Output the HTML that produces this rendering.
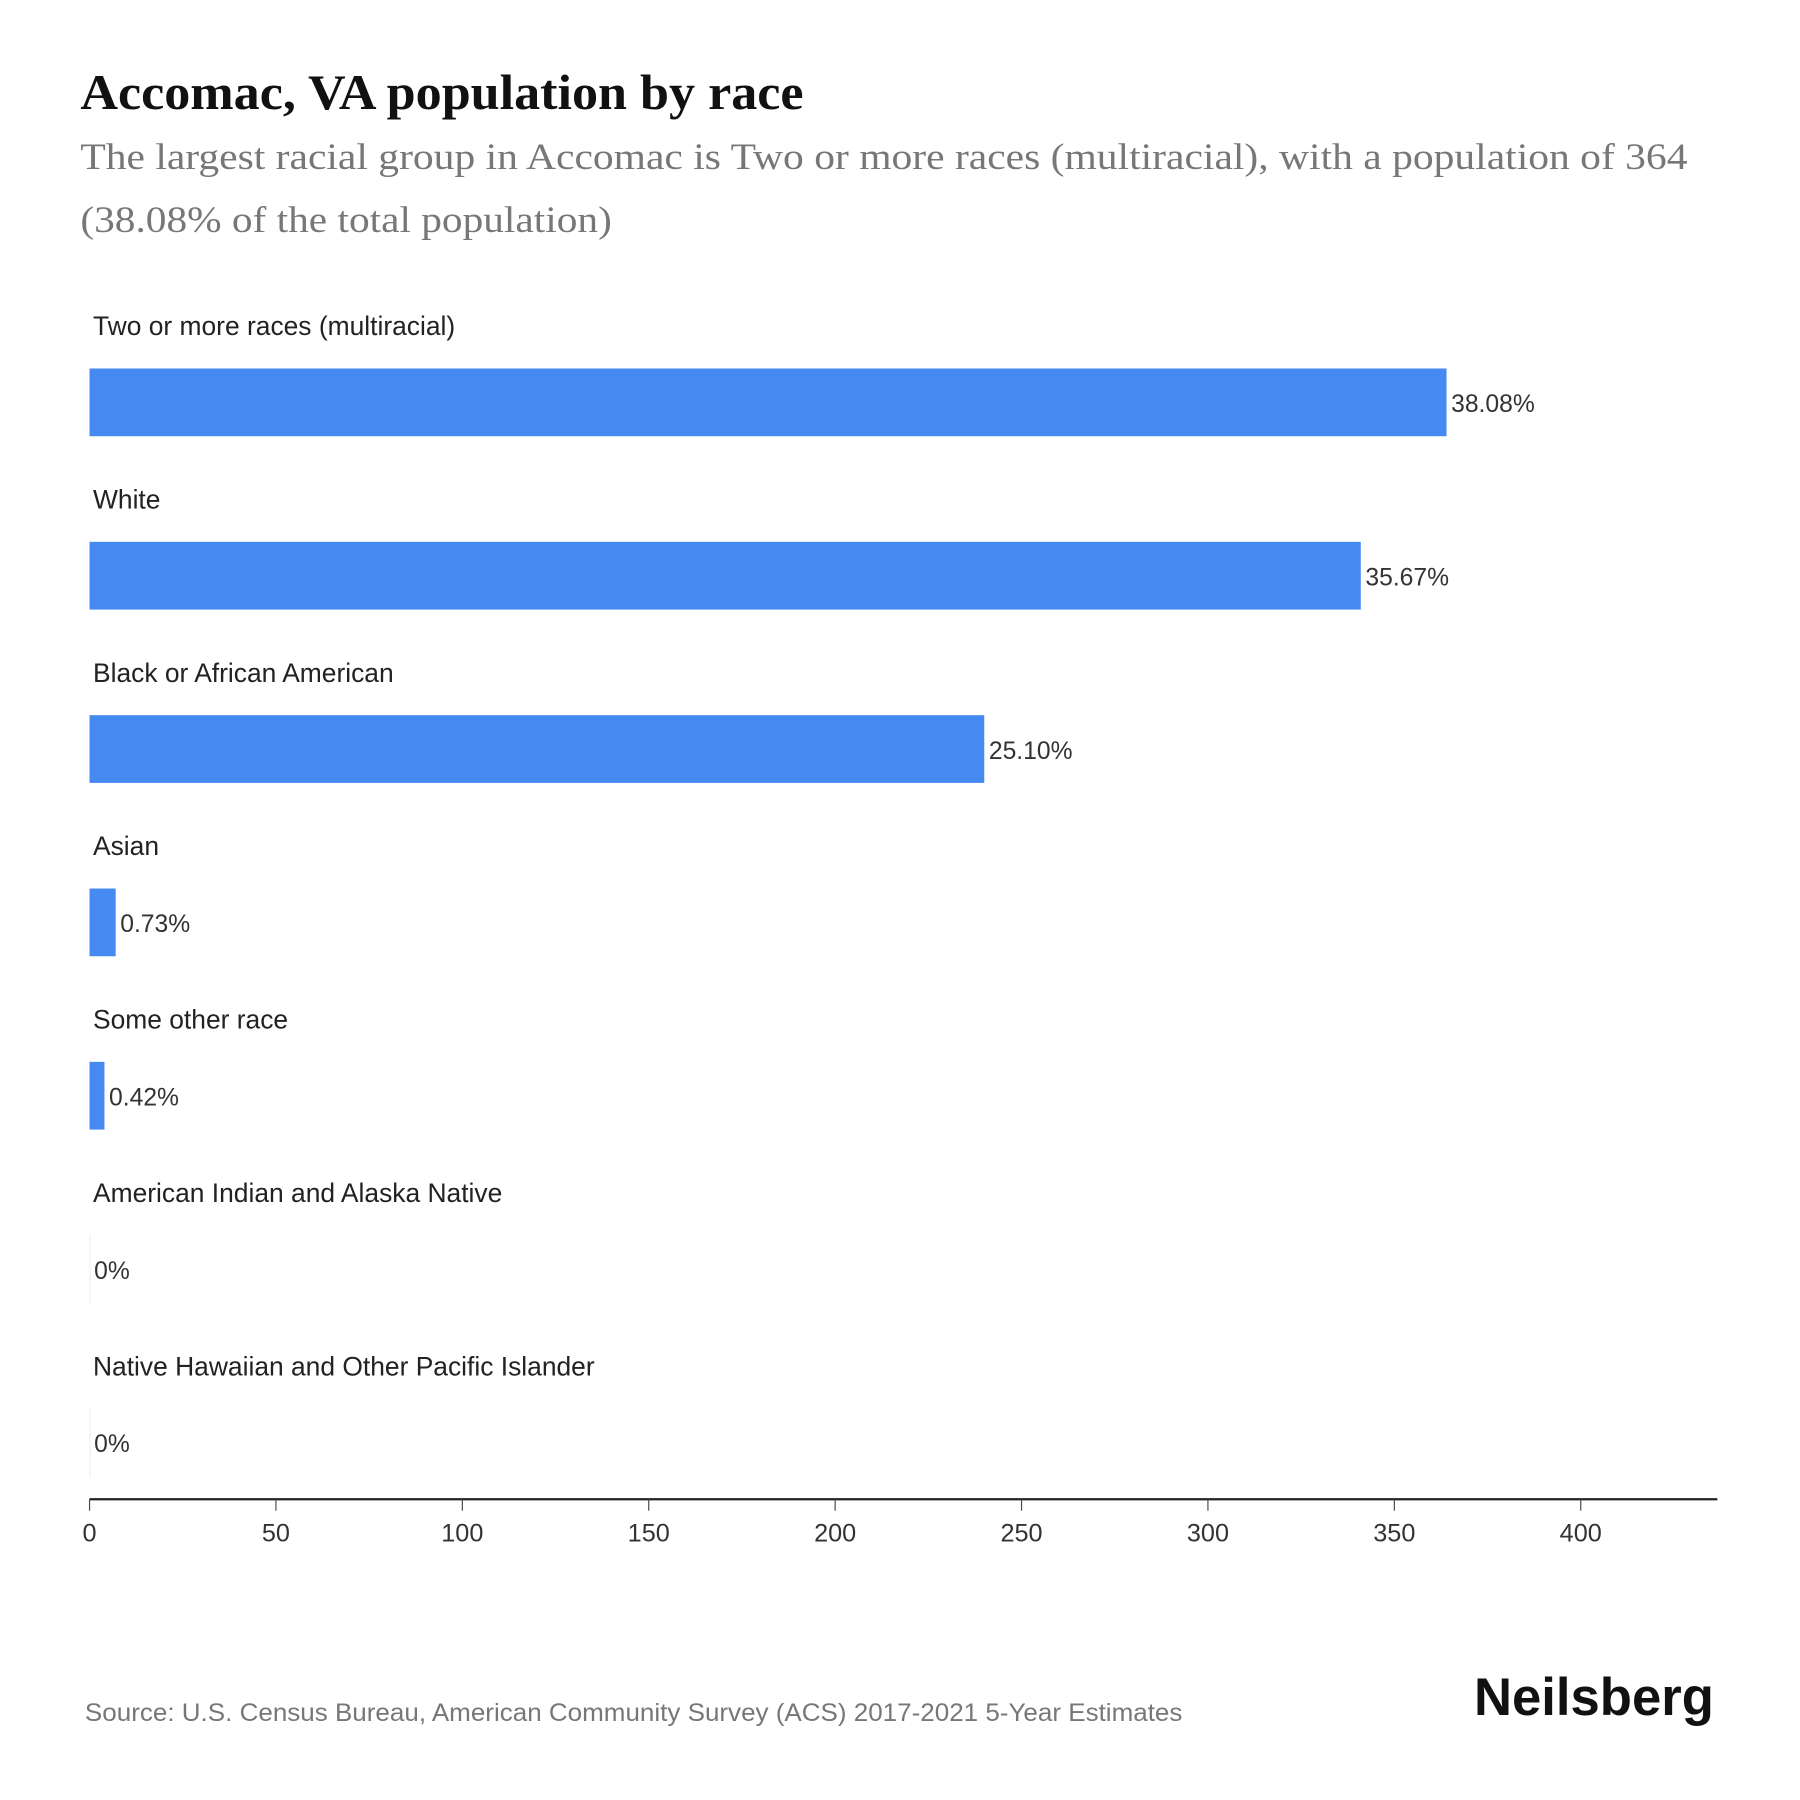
<!DOCTYPE html>
<html><head><meta charset="utf-8"><style>html,body{margin:0;padding:0;background:#fff}svg{display:block}</style></head>
<body>
<svg id="chart" width="1800" height="1800" viewBox="0 0 1568 1568" xmlns="http://www.w3.org/2000/svg">
<rect width="1568" height="1568" fill="#fff"/>
<text x="70" y="95" textLength="630" lengthAdjust="spacingAndGlyphs" font-family="Liberation Serif, serif" font-weight="bold" font-size="43" fill="#111">Accomac, VA population by race</text>
<text x="70" y="147" textLength="1400" lengthAdjust="spacingAndGlyphs" font-family="Liberation Serif, serif" font-size="32" fill="#777">The largest racial group in Accomac is Two or more races (multiracial), with a population of 364</text>
<text x="70" y="202" textLength="463" lengthAdjust="spacingAndGlyphs" font-family="Liberation Serif, serif" font-size="32" fill="#777">(38.08% of the total population)</text>
<g id="bars"></g>
<g id="axis"></g>
<text x="74" y="1499" textLength="956" lengthAdjust="spacingAndGlyphs" font-family="Liberation Sans, sans-serif" font-size="22" fill="#777">Source: U.S. Census Bureau, American Community Survey (ACS) 2017-2021 5-Year Estimates</text>
<text x="1284" y="1494" textLength="209" lengthAdjust="spacingAndGlyphs" font-family="Liberation Sans, sans-serif" font-weight="bold" font-size="46" fill="#111">Neilsberg</text>
</svg>
<script>
const categories = ["Two or more races (multiracial)","White","Black or African American","Asian","Some other race","American Indian and Alaska Native","Native Hawaiian and Other Pacific Islander"];
const values = [364, 341, 240, 7, 4, 0, 0];
const valueLabels = ["38.08%","35.67%","25.10%","0.73%","0.42%","0%","0%"];
const tickValues = [0,50,100,150,200,250,300,350,400];

const NS="http://www.w3.org/2000/svg";
const x0=78, pxPer=(1377-78)/400;
function xScale(v){return x0+v*pxPer;}
function rowTop(i){return 321+i*151;}
const bars=document.getElementById('bars'), axis=document.getElementById('axis');
function mk(tag,attrs,parent){const e=document.createElementNS(NS,tag);for(const k in attrs)e.setAttribute(k,attrs[k]);parent.appendChild(e);return e;}
categories.forEach((c,i)=>{
  const y=rowTop(i);
  const lab=mk('text',{x:81,y:y-29,'font-family':'Liberation Sans, sans-serif','font-size':23,fill:'#222'},bars);
  
  
  lab.textContent=c;
  const w=Math.max(xScale(values[i])-x0,0);
  const r=mk('rect',{x:x0,y:y,width:w,height:59,fill:'#4589f1'},bars);
  
  
  if(values[i]===0){mk('line',{x1:x0+0.5,x2:x0+0.5,y1:y,y2:y+59,stroke:'#eee'},bars);}
  const v=mk('text',{x:xScale(values[i])+4,y:y+38,'font-family':'Liberation Sans, sans-serif','font-size':21.5,fill:'#333'},bars);
  
  
  v.textContent=valueLabels[i];
});
const al=mk('line',{x1:x0,x2:1496,y1:1306,y2:1306,stroke:'#222','stroke-width':2},axis);


tickValues.forEach(t=>{
  const tk=mk('line',{x1:xScale(t),x2:xScale(t),y1:1306,y2:1316,stroke:'#444'},axis);
  
  
  const tl=mk('text',{x:xScale(t),y:1343,'text-anchor':'middle','font-family':'Liberation Sans, sans-serif','font-size':22,fill:'#333'},axis);
  
  
  tl.textContent=t;
});
</script>
</body></html>
